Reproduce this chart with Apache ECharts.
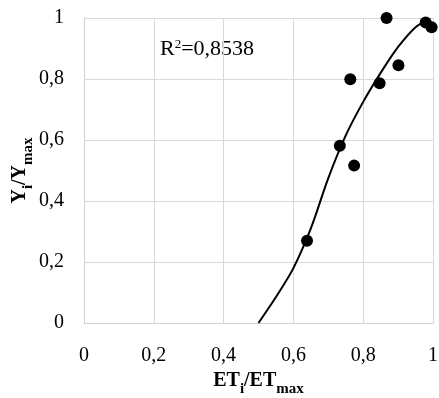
<!DOCTYPE html>
<html>
<head>
<meta charset="utf-8">
<script src="https://cdn.jsdelivr.net/npm/echarts@6/dist/echarts.min.js"></script>
<style>html,body{margin:0;padding:0;background:#fff}#c{width:439px;height:398px}</style>
</head>
<body>
<div id="c"></div>
<script>
const obsX = [0.639, 0.733, 0.763, 0.774, 0.847, 0.867, 0.901, 0.979, 0.996];
const obsY = [0.270, 0.581, 0.799, 0.516, 0.786, 1.000, 0.845, 0.985, 0.970];
const fitX = [0.50, 0.55, 0.60, 0.65, 0.70, 0.75, 0.80, 0.85, 0.90, 0.95, 0.985];
const fitY = [0.00, 0.085, 0.18, 0.31, 0.475, 0.615, 0.725, 0.82, 0.905, 0.97, 0.993];
const tickStep = 0.2;
const r2Text = '0,8538';

const F = '"Liberation Serif","Times New Roman",serif';
const chart = echarts.init(document.getElementById('c'));
const fmt = v => String(Math.round(v * 10) / 10).replace('.', ',');
const titleRich = {
  b: {fontFamily: F, fontWeight: 'bold', fontSize: 20, lineHeight: 24, verticalAlign: 'top', color: '#000'},
  s: {fontFamily: F, fontWeight: 'bold', fontSize: 15, lineHeight: 15, padding: [11, 0, 0, 0], verticalAlign: 'top', color: '#000'}
};
chart.setOption({
  animation: false,
  backgroundColor: '#fff',
  grid: {left: 84, right: 6, top: 18, bottom: 75, outerBoundsMode: 'none', containLabel: false},
  xAxis: {
    type: 'value', min: 0, max: 1, interval: tickStep,
    name: '{b|ET}{s|i}{b|/ET}{s|max}', nameLocation: 'middle', nameGap: 48, nameMoveOverlap: false,
    nameTextStyle: {rich: titleRich},
    axisLine: {show: true, lineStyle: {color: '#d0d0d0'}},
    axisTick: {show: false},
    splitLine: {show: true, lineStyle: {color: '#d9d9d9', width: 1}},
    axisLabel: {formatter: fmt, fontFamily: F, fontSize: 20, color: '#000', margin: 23}
  },
  yAxis: {
    type: 'value', min: 0, max: 1, interval: tickStep,
    name: '{b|Y}{s|i}{b|/Y}{s|max}', nameLocation: 'middle', nameGap: 50, nameRotate: 90, nameMoveOverlap: false,
    nameTextStyle: {rich: titleRich},
    axisLine: {show: true, lineStyle: {color: '#d0d0d0'}},
    axisTick: {show: false},
    splitLine: {show: true, lineStyle: {color: '#d9d9d9', width: 1}},
    axisLabel: {formatter: fmt, fontFamily: F, fontSize: 20, color: '#000', margin: 20}
  },
  graphic: [{
    type: 'text', left: 160, top: 38,
    style: {
      text: '{r|R}{p|2}{r|=' + r2Text + '}',
      rich: {
        r: {fontFamily: F, fontSize: 22, lineHeight: 26, verticalAlign: 'top', fill: '#000'},
        p: {fontFamily: F, fontSize: 13, lineHeight: 13, verticalAlign: 'top', fill: '#000'}
      }
    }
  }],
  series: [
    {
      type: 'line', data: fitX.map((x, i) => [x, fitY[i]]), smooth: 0.3,
      showSymbol: false, lineStyle: {color: '#000', width: 2}, z: 2
    },
    {
      type: 'scatter', data: obsX.map((x, i) => [x, obsY[i]]),
      symbolSize: 12, itemStyle: {color: '#000', opacity: 1}, z: 3
    }
  ]
});
</script>
</body>
</html>
